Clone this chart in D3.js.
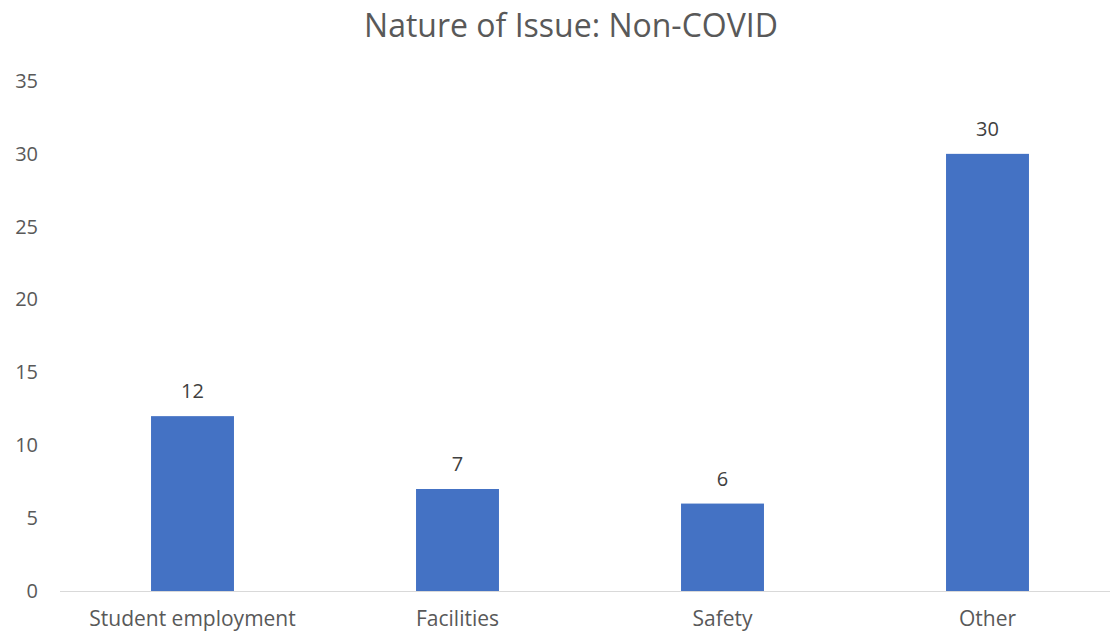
<!DOCTYPE html>
<html>
<head>
<meta charset="utf-8">
<script src="https://cdn.jsdelivr.net/npm/d3@7"></script>
<style>
  html, body { margin: 0; padding: 0; background: #fff; }
  svg { display: block; font-family: "Open Sans", "Liberation Sans", sans-serif; }
</style>
</head>
<body>
<svg id="chart" width="1110" height="633"></svg>
<script>
const categories = ["Student employment", "Facilities", "Safety", "Other"];
const counts = [12, 7, 6, 30];
const yTicks = [0, 5, 10, 15, 20, 25, 30, 35];
const chartTitle = "Nature of Issue: Non-COVID";

const svg = d3.select("#chart");
const W = 1110, H = 633;
const plot = { left: 60, right: 1120, top: 81, bottom: 591 };

const x = d3.scaleBand()
  .domain(categories)
  .range([plot.left, plot.right])
  .paddingInner(0.687)
  .paddingOuter(0.3435);

const y = d3.scaleLinear()
  .domain([0, 35])
  .range([plot.bottom, plot.top]);

// title
svg.append("text")
  .attr("x", 571)
  .attr("y", 37)
  .attr("text-anchor", "middle")
  .attr("fill", "#595959")
  .style("font-size", "32px")
  .text(chartTitle);

// value axis labels (no axis line)
const yAxis = svg.append("g")
  .attr("transform", `translate(${plot.left - 22},0)`)
  .call(d3.axisLeft(y).tickValues(yTicks).tickSize(0).tickPadding(0));
yAxis.select(".domain").remove();
yAxis.selectAll("text")
  .attr("fill", "#595959")
  .style("font-size", "20px")
  .style("font-family", "'Open Sans', sans-serif");

// bars
svg.append("g").selectAll("rect")
  .data(counts)
  .join("rect")
  .attr("x", (d, i) => x(categories[i]))
  .attr("y", d => y(d))
  .attr("width", x.bandwidth())
  .attr("height", d => y(0) - y(d))
  .attr("fill", "#4472C4");

// category axis
const xAxis = svg.append("g")
  .attr("transform", `translate(0,${plot.bottom})`)
  .call(d3.axisBottom(x).tickSize(0));
xAxis.select(".domain").remove();
xAxis.selectAll("text")
  .attr("y", 35)
  .attr("dy", null)
  .attr("fill", "#595959")
  .style("font-size", "21px")
  .style("font-family", "'Open Sans', sans-serif");

svg.append("line")
  .attr("x1", plot.left).attr("x2", W)
  .attr("y1", y(0) + 0.5).attr("y2", y(0) + 0.5)
  .attr("stroke", "#d9d9d9")
  .attr("stroke-width", 1);

// value labels
svg.append("g").selectAll("text")
  .data(counts)
  .join("text")
  .attr("x", (d, i) => x(categories[i]) + x.bandwidth() / 2)
  .attr("y", d => y(d) - 18)
  .attr("text-anchor", "middle")
  .attr("fill", "#404040")
  .style("font-size", "20px")
  .text(d => d);
</script>
</body>
</html>
